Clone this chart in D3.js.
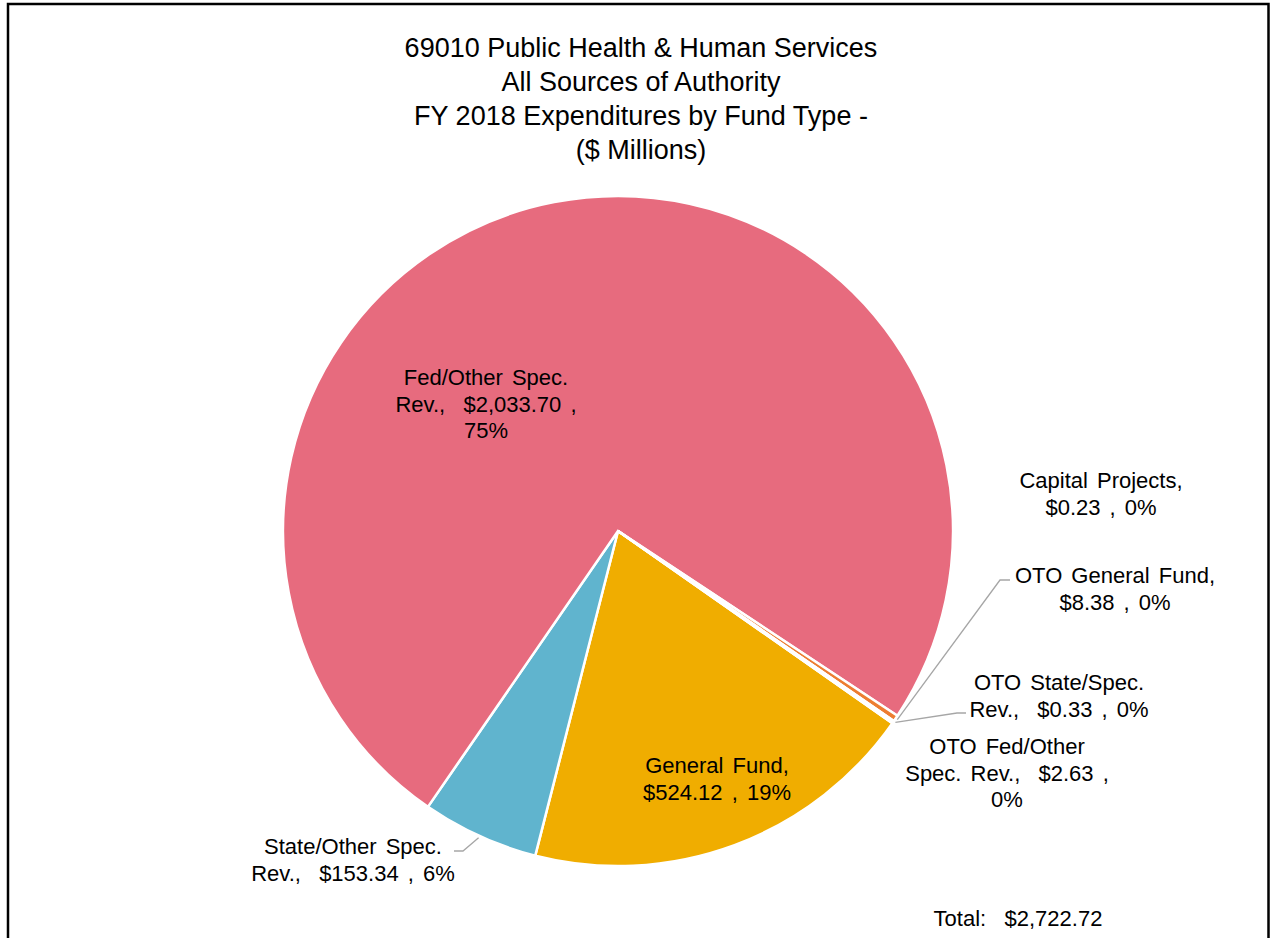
<!DOCTYPE html>
<html>
<head>
<meta charset="utf-8">
<script src="https://cdn.jsdelivr.net/npm/d3@7"></script>
<style>
  body { margin: 0; background: #fff; }
  svg { display: block; font-family: "Liberation Sans", Arial, sans-serif; }
</style>
</head>
<body>
<svg id="chart" width="1270" height="938"></svg>
<script>
// Fund types, in the order the slices run clockwise
const categories = [
  "General Fund",
  "State/Other Spec. Rev.",
  "Fed/Other Spec. Rev.",
  "OTO General Fund",
  "OTO State/Spec. Rev.",
  "OTO Fed/Other Spec. Rev.",
  "Capital Projects"
];
// FY 2018 expenditures, $ millions
const amounts = [524.12, 153.34, 2033.70, 8.38, 0.33, 2.63, 0.23];
const reportedTotal = 2722.72;

const titleLines = [
  "69010 Public Health & Human Services",
  "All Sources of Authority",
  "FY 2018 Expenditures by Fund Type -",
  "($ Millions)"
];

const sliceColors = ["#F0AD00", "#60B4CE", "#E76B7E", "#ED7D31", "#A5A5A5", "#4472C4", "#70AD47"];

// Data-label layout: text lines ({v} = amount, {p} = share), position, optional leader elbow
const labelLayout = {
  "General Fund":            { x: 717,  y: 773, lines: ["General Fund,", "{v} , {p}"] },
  "State/Other Spec. Rev.":  { x: 353,  y: 854, lines: ["State/Other Spec.", "Rev.,  {v} , {p}"], leader: [[454, 851], [463, 851]] },
  "Fed/Other Spec. Rev.":    { x: 486,  y: 385, lines: ["Fed/Other Spec.", "Rev.,  {v} ,", "{p}"] },
  "OTO General Fund":        { x: 1115, y: 583, lines: ["OTO General Fund,", "{v} , {p}"], leader: [[1010, 580], [1000, 580]] },
  "OTO State/Spec. Rev.":    { x: 1059, y: 690, lines: ["OTO State/Spec.", "Rev.,  {v} , {p}"], leader: [[966, 713], [957, 713]] },
  "OTO Fed/Other Spec. Rev.":{ x: 1007, y: 754, lines: ["OTO Fed/Other", "Spec. Rev.,  {v} ,", "{p}"] },
  "Capital Projects":        { x: 1101, y: 488, lines: ["Capital Projects,", "{v} , {p}"] }
};

const svg = d3.select("#chart");
const W = 1270, H = 938;
const cx = 618, cy = 531, radius = 335;
const lineH = 26.5;

// Outer frame (bottom edge runs past the canvas)
svg.append("path")
  .attr("d", `M8,${H + 5}V4H1268.5V${H + 5}`)
  .attr("fill", "none")
  .attr("stroke", "#000")
  .attr("stroke-width", 2.5);

// Title
svg.append("g").selectAll("text")
  .data(titleLines)
  .join("text")
  .attr("x", 641)
  .attr("y", (d, i) => 57 + i * 34)
  .attr("text-anchor", "middle")
  .attr("font-size", 27)
  .attr("fill", "#000")
  .text(d => d);

const data = categories.map((name, i) => ({ name, value: amounts[i], color: sliceColors[i] }));

const pie = d3.pie()
  .value(d => d.value)
  .sort(null)
  .startAngle(125 * Math.PI / 180)
  .endAngle(125 * Math.PI / 180 + 2 * Math.PI);

const arcs = pie(data);
const arc = d3.arc().innerRadius(0).outerRadius(radius);

const g = svg.append("g").attr("transform", `translate(${cx},${cy})`);

g.selectAll("path")
  .data(arcs)
  .join("path")
  .attr("d", arc)
  .attr("fill", d => d.data.color)
  .attr("stroke", "#fff")
  .attr("stroke-width", 2.5)
  .attr("stroke-linejoin", "miter");

const fmtMoney = v => "$" + d3.format(",.2f")(v);
const sum = d3.sum(amounts);
const fmtPct = v => Math.round(v / sum * 100) + "%";

// Leader lines, from the slice edge to the label elbow
const edgePoint = (d, r) => {
  const a = (d.startAngle + d.endAngle) / 2;
  return [cx + r * Math.sin(a), cy - r * Math.cos(a)];
};

arcs.forEach(d => {
  const lay = labelLayout[d.data.name];
  if (!lay.leader) return;
  const pts = [...lay.leader, edgePoint(d, radius + 2)];
  svg.append("path")
    .attr("d", d3.line()(pts))
    .attr("fill", "none")
    .attr("stroke", "#A6A6A6")
    .attr("stroke-width", 1.3);
});

// Data labels
const labels = svg.append("g").attr("font-size", 22).attr("fill", "#000");
arcs.forEach(d => {
  const lay = labelLayout[d.data.name];
  const t = labels.append("text")
    .attr("text-anchor", "middle")
    .style("white-space", "pre")
    .attr("word-spacing", "3px");
  lay.lines.forEach((ln, i) => {
    const s = ln.replace("{v}", fmtMoney(d.data.value)).replace("{p}", fmtPct(d.data.value));
    t.append("tspan")
      .attr("x", lay.x)
      .attr("y", lay.y + i * lineH)
      .text(s);
  });
});

// Total
svg.append("text")
  .attr("x", 1018)
  .attr("y", 926)
  .attr("text-anchor", "middle")
  .attr("font-size", 22)
  .style("white-space", "pre")
  .text("Total:   " + fmtMoney(reportedTotal));
</script>
</body>
</html>
